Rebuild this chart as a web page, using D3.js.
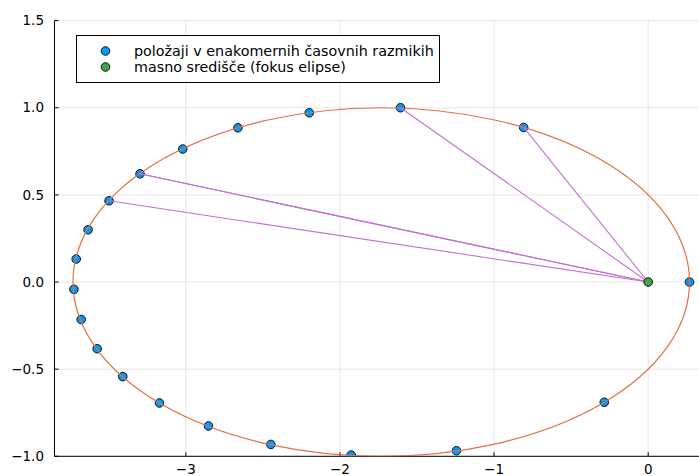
<!DOCTYPE html>
<html><head><meta charset="utf-8">
<script src="https://cdn.jsdelivr.net/npm/d3@7"></script>
<style>html,body{margin:0;padding:0;background:#fff;overflow:hidden}svg{display:block}</style>
</head><body><div id="chart"></div>
<script>
// positions at equal time steps
const posX = [0.268, -0.285, -1.244, -1.927, -2.448, -2.853, -3.171, -3.409, -3.575, -3.679, -3.726, -3.711, -3.634, -3.498, -3.297, -3.020, -2.662, -2.199, -1.607, -0.808];
const posY = [0.000, -0.690, -0.968, -0.993, -0.932, -0.826, -0.694, -0.543, -0.383, -0.215, -0.042, 0.132, 0.300, 0.466, 0.621, 0.763, 0.885, 0.971, 1.000, 0.887];
const focus = [0, 0];
const ellipseCenter = [-1.732, 0];
const ellipseRadii = [2, 1];
const segmentTargets = [13, 14, 14, 18, 19];
const xTicks = [-3, -2, -1, 0];
const yTicks = [-1.0, -0.5, 0.0, 0.5, 1.0, 1.5];
const legendLabels = ["položaji v enakomernih časovnih razmikih", "masno središče (fokus elipse)"];
const colors = {pts: "#009AFA", ell: "#E36F47", focus: "#3EA44E", seg: "#C271D2"};

const W = 699, H = 476;
const L = 54.5, R = 708, T = 20.6, B = 456.3;
const x = d3.scaleLinear().domain([-3.852, 0.388]).range([L, R]);
const y = d3.scaleLinear().domain([-1, 1.5]).range([B, T]);

const svg = d3.select("#chart").append("svg").attr("width", W).attr("height", H)
  .style("font-family", "DejaVu Sans, sans-serif");

svg.append("defs").append("clipPath").attr("id", "clip")
  .append("rect").attr("x", L).attr("y", T - 1).attr("width", R - L).attr("height", B - T + 1);

// grid
const grid = svg.append("g").attr("stroke", "rgba(0,0,0,0.1)").attr("stroke-width", 1);
grid.selectAll(".gx").data(xTicks).join("line")
  .attr("x1", d => x(d)).attr("x2", d => x(d)).attr("y1", T).attr("y2", B);
grid.selectAll(".gy").data(yTicks).join("line")
  .attr("x1", L).attr("x2", R).attr("y1", d => y(d)).attr("y2", d => y(d));

// axes
const ax = svg.append("g").attr("stroke", "#000").attr("stroke-width", 1);
ax.append("line").attr("x1", L).attr("x2", L).attr("y1", T).attr("y2", B);
ax.append("line").attr("x1", L).attr("x2", R).attr("y1", B).attr("y2", B);
ax.selectAll(".tx").data(xTicks).join("line")
  .attr("x1", d => x(d)).attr("x2", d => x(d)).attr("y1", B).attr("y2", B - 4);
ax.selectAll(".ty").data(yTicks).join("line")
  .attr("x1", L).attr("x2", L + 4).attr("y1", d => y(d)).attr("y2", d => y(d));

const fmtMinus = s => s.replace("-", "\u2212");
svg.append("g").selectAll("text").data(xTicks).join("text")
  .attr("x", d => x(d)).attr("y", 474).attr("text-anchor", "middle")
  .attr("font-size", 13.5).attr("fill", "#000")
  .text(d => fmtMinus(d3.format("d")(d)));
svg.append("g").selectAll("text").data(yTicks).join("text")
  .attr("x", 44).attr("y", d => y(d)).attr("dy", "0.35em").attr("text-anchor", "end")
  .attr("font-size", 13.5).attr("fill", "#000")
  .text(d => fmtMinus(d3.format(".1f")(d)));

const plot = svg.append("g").attr("clip-path", "url(#clip)");
const pts = posX.map((v, i) => [v, posY[i]]);

// points
plot.append("g").selectAll("circle").data(pts).join("circle")
  .attr("cx", d => x(d[0])).attr("cy", d => y(d[1])).attr("r", 4.3)
  .attr("fill", colors.pts).attr("stroke", "#000").attr("stroke-width", 0.9);

// ellipse
plot.append("ellipse")
  .attr("cx", x(ellipseCenter[0])).attr("cy", y(ellipseCenter[1]))
  .attr("rx", x(ellipseRadii[0]) - x(0)).attr("ry", y(0) - y(ellipseRadii[1]))
  .attr("fill", "none").attr("stroke", colors.ell).attr("stroke-width", 1.2);

// segments
plot.append("g").selectAll("line").data(segmentTargets).join("line")
  .attr("x1", x(focus[0])).attr("y1", y(focus[1]))
  .attr("x2", d => x(pts[d][0])).attr("y2", d => y(pts[d][1]))
  .attr("stroke", colors.seg).attr("stroke-width", 1.1);

// focus
plot.append("circle").attr("cx", x(focus[0])).attr("cy", y(focus[1])).attr("r", 4.3)
  .attr("fill", colors.focus).attr("stroke", "#000").attr("stroke-width", 0.9);

// legend
const lg = svg.append("g");
lg.append("rect").attr("x", 76.5).attr("y", 35.5).attr("width", 363).attr("height", 47)
  .attr("fill", "#fff").attr("stroke", "#000").attr("stroke-width", 1);
const legendColors = [colors.pts, colors.focus];
legendLabels.forEach((t, i) => {
  const yy = 51 + i * 16;
  lg.append("circle").attr("cx", 105.5).attr("cy", yy).attr("r", 4.3)
    .attr("fill", legendColors[i]).attr("stroke", "#000").attr("stroke-width", 0.9);
  lg.append("text").attr("x", 134).attr("y", yy).attr("dy", "0.35em")
    .attr("font-size", 14.3).attr("fill", "#000").text(t);
});
</script></body></html>
